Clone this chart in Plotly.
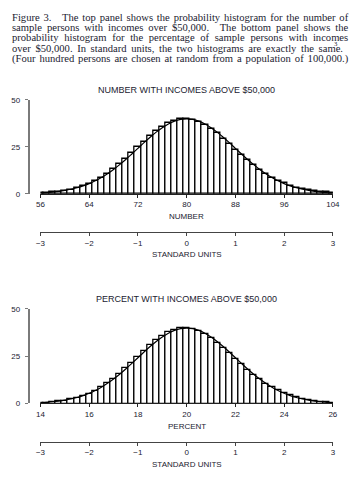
import json
import plotly.graph_objects as go

# ---------------- data ----------------
numbers = list(range(56, 105))  # number of sample persons with incomes over $50,000
# probability histogram heights (% per standard unit)
bar_heights = [0.34, 0.52, 0.76, 1.11, 1.57, 2.19, 2.99, 4.00, 5.27, 6.80,
               8.62, 10.72, 13.13, 15.79, 18.67, 21.70, 24.81, 27.87, 30.80, 33.48,
               35.81, 37.66, 39.01, 39.78, 39.88, 39.38, 38.31, 36.70, 34.61, 32.16,
               29.42, 26.55, 23.60, 20.68, 17.85, 15.21, 12.77, 10.58, 8.64, 6.96,
               5.54, 4.34, 3.35, 2.55, 1.93, 1.43, 1.05, 0.76, 0.54]
# normal curve heights at the same positions
curve_heights = [0.44, 0.64, 0.91, 1.27, 1.75, 2.37, 3.17, 4.17, 5.40, 6.88,
                 8.63, 10.65, 12.95, 15.50, 18.26, 21.19, 24.20, 27.21, 30.11, 32.82,
                 35.21, 37.18, 38.66, 39.58, 39.89, 39.58, 38.66, 37.18, 35.21, 32.82,
                 30.11, 27.21, 24.20, 21.19, 18.26, 15.50, 12.95, 10.65, 8.63, 6.88,
                 5.40, 4.17, 3.17, 2.37, 1.75, 1.27, 0.91, 0.64, 0.44]
percents = [n / 4 for n in numbers]  # same sample expressed as a percentage of 400

number_ticks = [56, 64, 72, 80, 88, 96, 104]
percent_ticks = [14, 16, 18, 20, 22, 24, 26]
su_ticks = [-3, -2, -1, 0, 1, 2, 3]
su_labels = ["\u22123", "\u22122", "\u22121", "0", "1", "2", "3"]
y_ticks = [0, 25, 50]

caption_lines = [
    "Figure 3.\u2003The top panel shows the probability histogram for the number of",
    "sample persons with incomes over $50,000.\u2003The bottom panel shows the",
    "probability histogram for the percentage of sample persons with incomes",
    "over $50,000. In standard units, the two histograms are exactly the same.",
    "(Four hundred persons are chosen at random from a population of 100,000.)",
]
footnote_mark = "3"

# ---------------- layout helpers ----------------
W, H = 356, 488
def px(x):
    return x / W
def py(y):
    return 1 - y / H

TXT = "#222230"
XLINE = "#222222"
YLINE = "#7a7a7a"
SANS = "Liberation Sans, Arial, sans-serif"
SERIF = "Liberation Serif, Times New Roman, serif"

fig = go.Figure()

# ---------------- traces ----------------
for xs, w, xa, ya, sa in [(numbers, 1.0, "x", "y", "x2"), (percents, 0.25, "x3", "y2", "x4")]:
    fig.add_trace(go.Bar(x=xs, y=bar_heights, width=w, xaxis=xa, yaxis=ya,
                         marker=dict(color="white", line=dict(color="black", width=1.3)),
                         hoverinfo="skip"))
    fig.add_trace(go.Scatter(x=xs, y=curve_heights, mode="lines", xaxis=xa, yaxis=ya,
                             line=dict(color="black", width=1.2, shape="spline"),
                             hoverinfo="skip"))
    fig.add_trace(go.Scatter(x=[su_ticks[0], su_ticks[-1]], y=[0, 0], mode="markers",
                             marker=dict(opacity=0), xaxis=sa, yaxis=ya, hoverinfo="skip"))

def xax(rng, tv, tt, color=XLINE, **kw):
    d = dict(domain=[px(36.7), px(339.3)], range=rng, tickvals=tv, ticktext=tt,
             ticks="outside", ticklen=3, tickwidth=1, tickcolor=color, showline=True,
             linecolor=color, linewidth=1, showgrid=False, zeroline=False,
             tickfont=dict(family=SANS, size=8, color=TXT), fixedrange=True)
    d.update(kw)
    return d

def yax(top, bottom):
    return dict(domain=[py(bottom), py(top)], range=[0, 50], anchor="free", position=px(24.5),
                tickvals=y_ticks, ticks="outside", ticklen=3, tickwidth=1.3, tickcolor=YLINE,
                ticklabelstandoff=3,
                showline=True, linecolor=YLINE, linewidth=1.6, showgrid=False, zeroline=False,
                tickfont=dict(family=SANS, size=8, color=TXT), fixedrange=True)

fig.update_layout(
    width=W, height=H, margin=dict(l=0, r=0, t=0, b=0),
    paper_bgcolor="white", plot_bgcolor="white", showlegend=False, bargap=0,
    xaxis=xax([56, 104], number_ticks, [str(t) for t in number_ticks], anchor="y"),
    yaxis=yax(97.7, 193.3),
    xaxis2=xax([-3, 3], su_ticks, su_labels, color="#444444", anchor="free", overlaying="x",
               side="bottom", position=py(232.5)),
    xaxis3=xax([14, 26], percent_ticks, [str(t) for t in percent_ticks], anchor="y2"),
    yaxis2=yax(310.7, 407.0),
    xaxis4=xax([-3, 3], su_ticks, su_labels, color="#444444", anchor="free", overlaying="x3",
               side="bottom", position=py(446.0)),
)

ann = []
def label(text, x, y, size, family=SANS, xanchor="center", align="center"):
    ann.append(dict(text=text, x=px(x), y=py(y), xref="paper", yref="paper",
                    xanchor=xanchor, yanchor="middle", showarrow=False, align=align,
                    borderpad=0, borderwidth=0,
                    font=dict(family=family, size=size, color=TXT)))

label("NUMBER WITH INCOMES ABOVE $50,000", 188, 87.3, 9)
label("NUMBER", 188, 217.0, 8)
label("STANDARD UNITS", 188, 255.7, 8)
label("PERCENT WITH INCOMES ABOVE $50,000", 188, 300.7, 9)
label("PERCENT", 188, 430.7, 8)
label("STANDARD UNITS", 188, 469.0, 8)

# caption, one annotation per line; justified in the page by word spacing
FS = 10.6
LEFT, RIGHT = 7.3, 343.5
line_y = [13.3, 23.9, 34.5, 45.1, 55.7]
targets = []
for i, line in enumerate(caption_lines):
    label(line, LEFT, line_y[i], FS, family=SERIF, xanchor="left", align="left")
    targets.append(RIGHT - LEFT - (5.2 if i == 3 else 0))
label(footnote_mark, RIGHT - 3.5, line_y[3] - 4.4, 6.8, family=SERIF, xanchor="left", align="left")

fig.update_layout(annotations=ann)

post = """
document.body.style.margin = '0';
document.body.style.padding = '0';
(function(){
  var gd = document.getElementById('{plot_id}');
  var lines = %s;
  var targets = %s;
  gd.querySelectorAll('g.annotation text.annotation-text').forEach(function(t){
    var i = lines.indexOf(t.textContent);
    if (i < 0) return;
    var n = (t.textContent.match(/ /g) || []).length;
    var L = t.getComputedTextLength();
    if (n > 0) t.style.wordSpacing = ((targets[i] - L) / n) + 'px';
  });
})();
""" % (json.dumps(caption_lines), json.dumps(targets))

fig.write_html("out.html", post_script=post, config={"displayModeBar": False})
